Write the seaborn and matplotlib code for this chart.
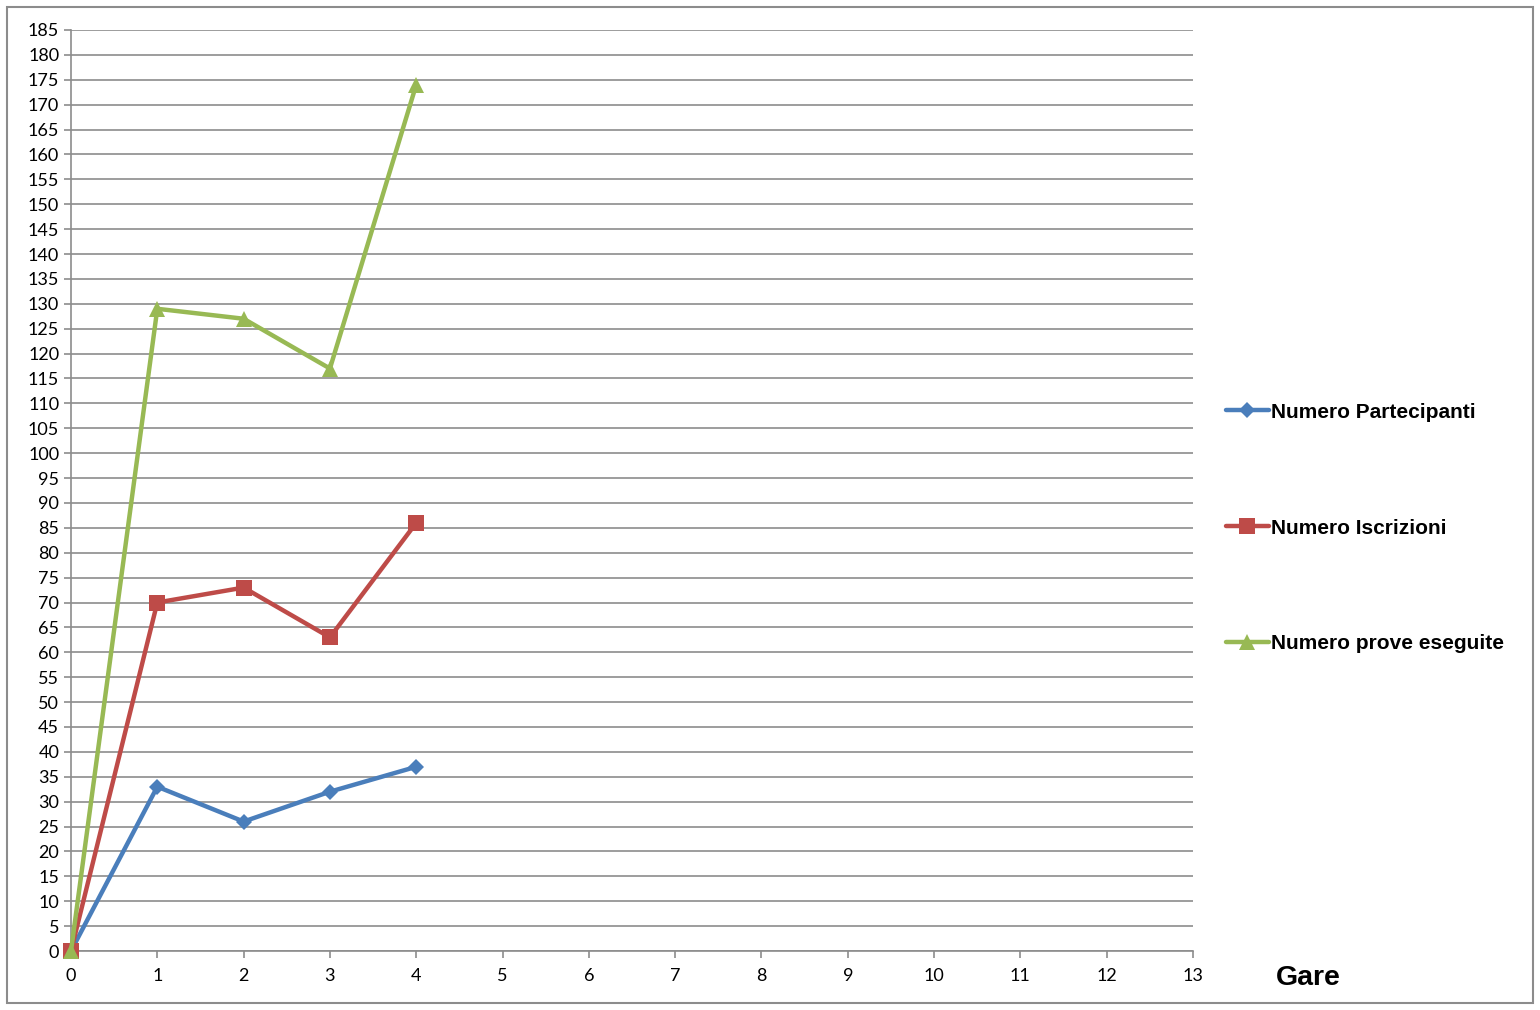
import matplotlib
matplotlib.use("Agg")

import matplotlib.pyplot as plt
import pandas as pd
import seaborn as sns

# Dati
gare = [0, 1, 2, 3, 4]
partecipanti = [0, 33, 26, 32, 37]
iscrizioni = [0, 70, 73, 63, 86]
prove = [0, 129, 127, 117, 174]

serie = ["Numero Partecipanti", "Numero Iscrizioni", "Numero prove eseguite"]
colori = ["#4A7EBB", "#BE4B48", "#98B954"]
marker = ["D", "s", "^"]
dim_marker = [8, 11, 11]

sns.set_theme(style="white")
plt.rcParams["font.family"] = ["Lato", "DejaVu Sans"]
plt.rcParams["text.color"] = "black"

df = pd.DataFrame({
    "Gare": gare * 3,
    "valore": partecipanti + iscrizioni + prove,
    "serie": [serie[0]] * 5 + [serie[1]] * 5 + [serie[2]] * 5,
})

fig = plt.figure(figsize=(15.4, 10.1), dpi=100)
ax = fig.add_axes([71 / 1540, 59 / 1010, 1122 / 1540, 921 / 1010])

for nome, col, mk, ms in zip(serie, colori, marker, dim_marker):
    sns.lineplot(data=df[df["serie"] == nome], x="Gare", y="valore", ax=ax,
                 color=col, marker=mk, markersize=ms, markeredgewidth=0,
                 linewidth=3.2, label=nome, clip_on=False, zorder=3)

ax.set_xlim(0, 13)
ax.set_ylim(0, 185)
ax.set_xticks(range(0, 14))
ax.set_yticks(range(0, 186, 5))
ax.set_xlabel("")
ax.set_ylabel("")
ax.grid(axis="y", color="#8C8C8C", linewidth=1.2)
ax.set_axisbelow(True)
for s in ["top", "right"]:
    ax.spines[s].set_visible(False)
for s in ["left", "bottom"]:
    ax.spines[s].set_color("#8C8C8C")
    ax.spines[s].set_linewidth(1.2)
ax.tick_params(axis="both", direction="out", length=5, width=1.2, color="#8C8C8C",
               labelsize=13, labelcolor="black", left=True, bottom=True)
ax.tick_params(axis="x", pad=7)

# Etichetta asse X a destra
fig.text(1308 / 1540, 1 - 978 / 1010, "Gare", fontsize=20.5, fontweight="bold",
         family="Liberation Sans", color="black", ha="center", va="center")

# Legenda
leg = ax.legend(loc="center left", bbox_to_anchor=(1226 / 1540, 1 - 528 / 1010),
                bbox_transform=fig.transFigure, frameon=False,
                prop={"family": "Liberation Sans", "weight": "bold", "size": 15},
                handlelength=2.05, handletextpad=0.12, labelspacing=4.65,
                borderpad=0, borderaxespad=0)
for t in leg.get_texts():
    t.set_color("black")

# Bordo esterno
fig.patches.append(plt.Rectangle((7 / 1540, 7 / 1010), 1526 / 1540, 996 / 1010,
                                 transform=fig.transFigure, fill=False,
                                 edgecolor="#8C8C8C", linewidth=1.5))

fig.savefig("out.png", dpi=100)
